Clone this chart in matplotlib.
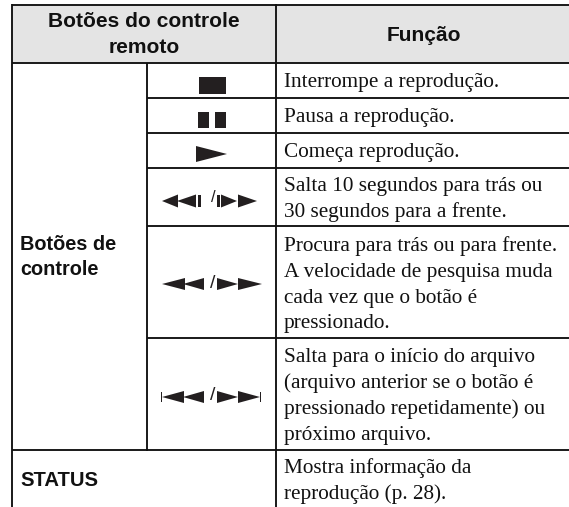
import matplotlib.pyplot as plt
from matplotlib.patches import Polygon, Rectangle

W, H = 569, 507

header_left = ['Botões do controle', 'remoto']
header_right = 'Função'
group_label = ['Botões de', 'controle']
status_label = 'STATUS'

row_text = [
    'Interrompe a reprodução.',
    'Pausa a reprodução.',
    'Começa reprodução.',
    'Salta 10 segundos para trás ou',
    '30 segundos para a frente.',
    'Procura para trás ou para frente.',
    'A velocidade de pesquisa muda',
    'cada vez que o botão é',
    'pressionado.',
    'Salta para o início do arquivo',
    '(arquivo anterior se o botão é',
    'pressionado repetidamente) ou',
    'próximo arquivo.',
    'Mostra informação da',
    'reprodução (p. 28).',
]
text_y = [87, 122, 157, 191, 217, 251, 277, 303, 328, 362, 388, 414, 440, 473, 499]

fig = plt.figure(figsize=(W / 100, H / 100), dpi=100)
ax = fig.add_axes([0, 0, 1, 1])
ax.set_xlim(0, W)
ax.set_ylim(H, 0)
ax.axis('off')

sans = 'Liberation Sans'
serif = 'Liberation Serif'
left, col1, col2, top = 12, 147.5, 276, 5
black = '#231f20'

ax.add_patch(Rectangle((left, top), W - left, 63 - top, color='#e4e4e4', lw=0))


def line(x0, y0, x1, y1):
    ax.plot([x0, x1], [y0, y1], color='#111111', lw=1.35, solid_capstyle='butt')


def tri(x0, x1, y, h):
    ax.add_patch(Polygon([(x0, y - h), (x1, y), (x0, y + h)], color=black, lw=0))


# grid, the table runs off the right edge of the picture
for y in [5, 63, 450]:
    line(left, y, W, y)
for y in [98, 133, 168, 226, 338]:
    line(col1, y, W, y)
line(left, 4, left, H)
line(col2, 4, col2, H)
line(col1, 63, col1, 451)

bold = dict(family=sans, weight='bold', color='#111111')
ax.text(144, 27, header_left[0], ha='center', va='baseline', fontsize=15.1, **bold)
ax.text(144, 53, header_left[1], ha='center', va='baseline', fontsize=15.1, **bold)
ax.text(423.5, 41, header_right, ha='center', va='baseline', fontsize=15.1, **bold)
ax.text(20, 250, group_label[0], va='baseline', fontsize=14.3, **bold)
ax.text(20, 275, group_label[1], va='baseline', fontsize=14.3, **bold)
ax.text(20, 486, status_label, va='baseline', fontsize=14.6, **bold)

for s, y in zip(row_text, text_y):
    ax.text(284, y, s, family=serif, fontsize=15.3, va='baseline', color='#111111')

# stop
ax.add_patch(Rectangle((199, 77), 27, 17, color=black, lw=0))
# pause
ax.add_patch(Rectangle((198, 112), 11, 16, color=black, lw=0))
ax.add_patch(Rectangle((215, 112), 11, 16, color=black, lw=0))
# play
tri(196, 227, 154, 8)
# replay / skip
tri(178, 162, 201, 6.5)
tri(196, 177, 201, 6.5)
ax.add_patch(Rectangle((198, 195), 3, 12, color=black, lw=0))
ax.text(213, 197, '/', family=sans, fontsize=12, ha='center', va='center', color=black)
ax.add_patch(Rectangle((217, 195), 3, 12, color=black, lw=0))
tri(221, 237, 201, 6.5)
tri(238, 257, 201, 6.5)
# scan
tri(185, 162, 284, 6)
tri(204, 183, 284, 6)
ax.text(213, 283, '/', family=sans, fontsize=14, ha='center', va='center', color=black)
tri(217, 238, 284, 6)
tri(238, 262, 284, 6)
# prev / next
tri(184, 162, 397, 6)
tri(204, 183, 397, 6)
ax.add_patch(Rectangle((161, 392), 1.2, 10, color=black, lw=0))
ax.text(213, 396, '/', family=sans, fontsize=14, ha='center', va='center', color=black)
tri(217, 238, 397, 6)
tri(238, 260, 397, 6)
ax.add_patch(Rectangle((260, 392), 1.2, 10, color=black, lw=0))

fig.savefig('out.png', dpi=100)
